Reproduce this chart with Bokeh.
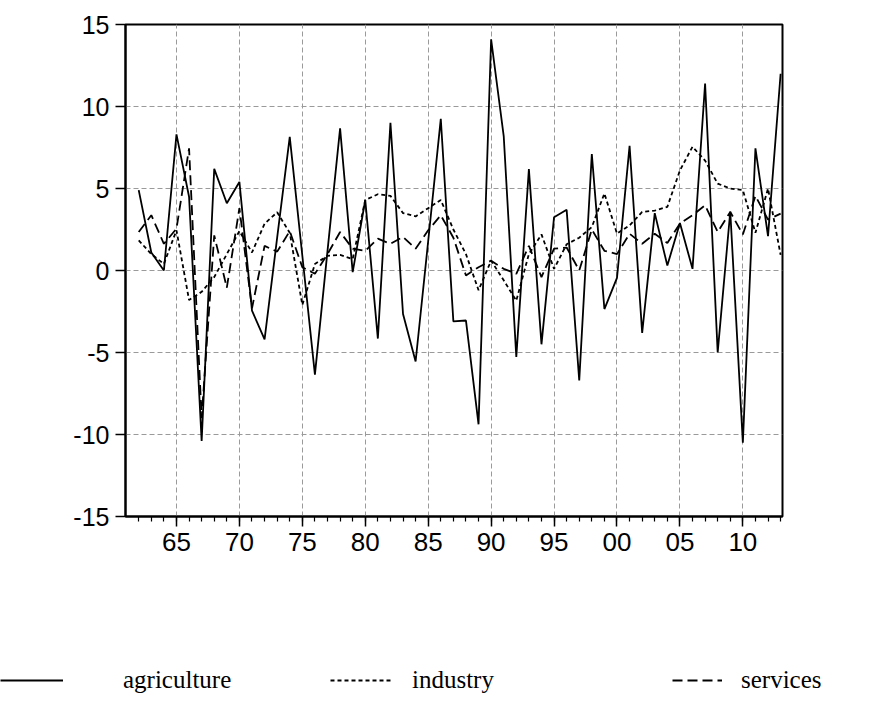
from bokeh.plotting import figure
from bokeh.models import FixedTicker, Range1d, Legend, LegendItem
from bokeh.layouts import column
from bokeh.embed import file_html
from bokeh.resources import INLINE

years = list(range(1962, 2014))

agriculture = [4.9, 1.1, 0.0, 8.3, 4.5, -10.4, 6.2, 4.1, 5.4, -2.45,
               -4.2, 2.0, 8.15, 0.9, -6.35, 1.2, 8.67, -0.1, 4.3, -4.15,
               9.0, -2.65, -5.55, 1.8, 9.25, -3.1, -3.05, -9.38, 14.1, 8.2,
               -5.27, 6.18, -4.5, 3.25, 3.7, -6.7, 7.1, -2.35, -0.45, 7.6,
               -3.8, 3.5, 0.3, 2.9, 0.1, 11.4, -5.0, 3.6, -10.5, 7.45,
               2.1, 12.0]

industry = [1.84, 1.0, 0.4, 2.45, -1.8, -1.3, -0.4, 1.0, 2.4, 1.1,
            2.85, 3.55, 2.3, -2.1, 0.4, 0.9, 0.95, 0.7, 4.3, 4.65,
            4.55, 3.5, 3.3, 3.8, 4.3, 2.5, 1.0, -1.2, 0.6, -0.6,
            -1.84, 1.0, 2.2, 0.1, 1.6, 2.0, 2.65, 4.7, 2.25, 2.75,
            3.57, 3.65, 3.88, 6.1, 7.55, 6.7, 5.3, 5.0, 4.9, 2.3,
            5.0, 0.95]

services = [2.35, 3.37, 1.63, 2.55, 7.45, -9.0, 2.14, -1.05, 3.8, -2.3,
            1.5, 1.15, 2.4, 0.2, -0.2, 1.0, 2.35, 1.33, 1.2, 1.94,
            1.63, 2.05, 1.33, 2.45, 3.37, 2.0, -0.3, 0.2, 0.6, 0.1,
            -0.2, 1.5, -0.4, 1.33, 1.4, 0.0, 2.5, 1.2, 1.0, 2.24,
            1.63, 2.24, 1.67, 2.86, 3.37, 3.98, 2.35, 3.57, 2.2, 4.55,
            3.1, 3.47]

x_major_ticks = [1965, 1970, 1975, 1980, 1985, 1990, 1995, 2000, 2005, 2010]
x_tick_labels = ["65", "70", "75", "80", "85", "90", "95", "00", "05", "10"]
y_ticks = [-15, -10, -5, 0, 5, 10, 15]
y_tick_labels = ["-15", "-10", "-5", "0", "5", "10", "15"]

series_labels = ["agriculture", "industry", "services"]
series_values = [agriculture, industry, services]
series_dash = ["solid", "4 3", "10 5"]
LW = 1.8

p = figure(width=885, height=576, output_backend="svg", toolbar_location=None,
           x_range=Range1d(1960.95, 2013.15), y_range=Range1d(-15, 15),
           min_border_left=125, min_border_right=103, min_border_top=24,
           min_border_bottom=60)
p.frame_align = False
p.background_fill_color = "white"
p.border_fill_color = "white"
p.outline_line_color = "black"
p.outline_line_width = 2

for vals, dash in zip(series_values, series_dash):
    p.line(years, vals, line_color="black", line_width=LW, line_dash=dash)

p.xaxis.ticker = FixedTicker(ticks=x_major_ticks, minor_ticks=years)
p.xaxis.major_label_overrides = {t: l for t, l in zip(x_major_ticks, x_tick_labels)}
p.yaxis.ticker = FixedTicker(ticks=y_ticks)
p.yaxis.major_label_overrides = {t: l for t, l in zip(y_ticks, y_tick_labels)}

for ax in (p.xaxis[0], p.yaxis[0]):
    ax.axis_line_color = "black"
    ax.axis_line_width = 2
    ax.major_tick_line_color = "black"
    ax.major_tick_line_width = 1.5
    ax.minor_tick_line_color = "black"
    ax.minor_tick_line_width = 1.2
    ax.major_tick_in = 0
    ax.minor_tick_in = 0
    ax.major_label_text_font = "Liberation Sans"
    ax.major_label_text_color = "black"

p.xaxis.major_tick_out = 10
p.xaxis.minor_tick_out = 5
p.xaxis.major_label_text_font_size = "26px"
p.xaxis.major_label_standoff = 6
p.yaxis.major_tick_out = 10
p.yaxis.minor_tick_out = 0
p.yaxis.major_label_text_font_size = "25px"
p.yaxis.major_label_standoff = 6

p.xgrid.ticker = FixedTicker(ticks=x_major_ticks)
p.ygrid.ticker = FixedTicker(ticks=[-10, -5, 0, 5, 10])
for g in (p.xgrid[0], p.ygrid[0]):
    g.grid_line_color = "#9a9a9a"
    g.grid_line_width = 1
    g.grid_line_dash = "5 3"

# legend panel below the chart (its ranges keep the series off-screen,
# so only the legend samples are visible)
lf = figure(width=885, height=140, output_backend="svg", toolbar_location=None,
            x_range=Range1d(0, 1), y_range=Range1d(0, 1),
            x_axis_location=None, y_axis_location=None,
            min_border_left=0, min_border_right=0, min_border_top=0,
            min_border_bottom=0)
lf.frame_align = False
lf.grid.visible = False
lf.outline_line_color = None
lf.background_fill_color = "white"
lf.border_fill_color = "white"

legend_x = [0, 330, 672]
glyph_w = [63, 63, 50]
standoffs = [60, 19, 19]

for lbl, vals, dash, lx, gw, so in zip(series_labels, series_values, series_dash,
                                       legend_x, glyph_w, standoffs):
    rr = lf.line(years, vals, line_color="black", line_width=LW, line_dash=dash)
    lg = Legend(items=[LegendItem(label=lbl, renderers=[rr])],
                location=(lx, 22), orientation="horizontal",
                glyph_width=gw, glyph_height=20, label_standoff=so,
                padding=0, margin=0, border_line_alpha=0,
                background_fill_alpha=0, label_text_font="Liberation Serif",
                label_text_font_size="25px", label_text_color="black",
                label_height=20)
    lf.add_layout(lg)

layout = column(p, lf, spacing=0)
open("out.html", "w").write(file_html(layout, INLINE))
